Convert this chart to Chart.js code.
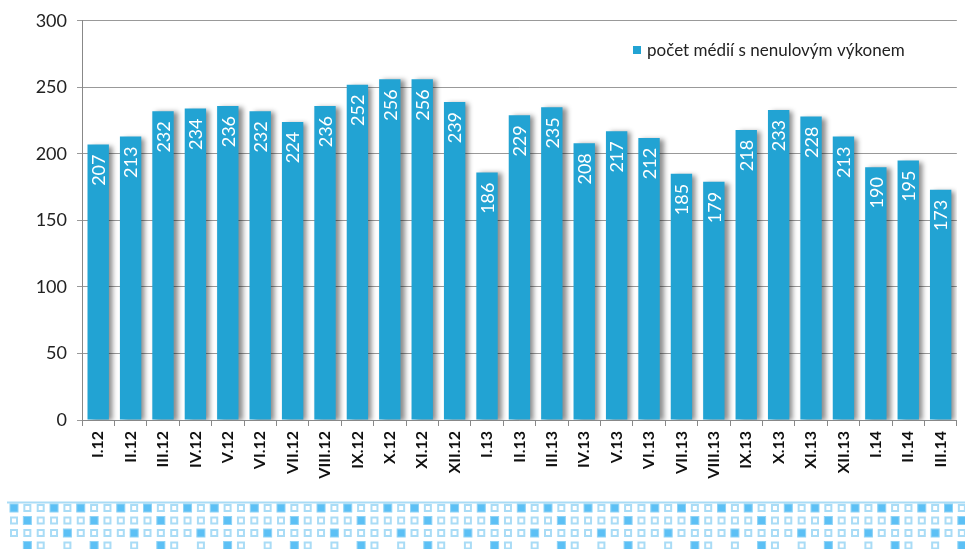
<!DOCTYPE html>
<html>
<head>
<meta charset="utf-8">
<script src="https://cdn.jsdelivr.net/npm/chart.js@4.4.0/dist/chart.umd.min.js"></script>
<style>
  body { margin: 0; background: #fff; }
  #wrap { position: relative; width: 965px; height: 500px; }
  #deco { display: block; }
</style>
</head>
<body>
<div id="wrap"><canvas id="chart"></canvas></div>
<canvas id="deco" width="965" height="49"></canvas>
<script>
// data
const categories = ['I.12', 'II.12', 'III.12', 'IV.12', 'V.12', 'VI.12', 'VII.12', 'VIII.12', 'IX.12', 'X.12', 'XI.12', 'XII.12',
    'I.13', 'II.13', 'III.13', 'IV.13', 'V.13', 'VI.13', 'VII.13', 'VIII.13', 'IX.13', 'X.13', 'XI.13', 'XII.13',
    'I.14', 'II.14', 'III.14'];
const mediaCount = [207, 213, 232, 234, 236, 232, 224, 236, 252, 256, 256, 239,
    186, 229, 235, 208, 217, 212, 185, 179, 218, 233, 228, 213,
    190, 195, 173];
const seriesName = 'počet médií s nenulovým výkonem';
const yTicks = [0, 50, 100, 150, 200, 250, 300];

const barColor = '#22a3d3';
const fontFamily = 'Lato, "Noto Sans", sans-serif';

// shadow behind bars, value labels inside bars, legend in the top right corner
const barExtras = {
    id: 'barExtras',
    beforeDatasetsDraw(chart) {
        const ctx = chart.ctx;
        ctx.save();
        ctx.shadowColor = 'rgba(0,0,0,0.45)';
        ctx.shadowOffsetX = 4;
        ctx.shadowOffsetY = 1;
        ctx.shadowBlur = 5;
    },
    afterDatasetsDraw(chart) {
        const ctx = chart.ctx;
        ctx.restore();
        const meta = chart.getDatasetMeta(0);
        ctx.save();
        ctx.fillStyle = '#ffffff';
        ctx.font = '18px ' + fontFamily;
        ctx.textAlign = 'right';
        ctx.textBaseline = 'middle';
        meta.data.forEach((bar, i) => {
            ctx.save();
            ctx.translate(bar.x, bar.y + 10);
            ctx.rotate(-Math.PI / 2);
            ctx.fillText(String(mediaCount[i]), 0, 1);
            ctx.restore();
        });
        ctx.restore();

        // legend
        const ds = chart.data.datasets[0];
        ctx.save();
        ctx.fillStyle = ds.backgroundColor;
        ctx.fillRect(633, 46, 8, 8);
        ctx.fillStyle = '#222';
        ctx.font = '17px ' + fontFamily;
        ctx.textAlign = 'left';
        ctx.textBaseline = 'middle';
        ctx.fillText(ds.label, 647, 51);
        ctx.restore();
    }
};

new Chart(document.getElementById('chart'), {
    type: 'bar',
    data: {
        labels: categories,
        datasets: [{
            label: seriesName,
            data: mediaCount,
            backgroundColor: barColor,
            borderWidth: 0,
            categoryPercentage: 1,
            barPercentage: 0.66
        }]
    },
    options: {
        responsive: true,
        maintainAspectRatio: false,
        animation: false,
        layout: { padding: { top: 6, right: 8, left: 0, bottom: 0 } },
        plugins: {
            tooltip: { enabled: false },
            legend: { display: false }
        },
        scales: {
            x: {
                grid: { display: true, drawOnChartArea: false, drawTicks: true, tickLength: 6, color: '#888' },
                border: { color: '#888' },
                ticks: {
                    minRotation: 90,
                    maxRotation: 90,
                    autoSkip: false,
                    color: '#111',
                    padding: 5,
                    font: { family: fontFamily, size: 16, weight: 'bold' }
                },
                afterFit(scale) { scale.height = 80; }
            },
            y: {
                min: 0,
                max: 300,
                afterBuildTicks(scale) { scale.ticks = yTicks.map(v => ({ value: v })); },
                grid: { color: '#999', tickLength: 5 },
                border: { color: '#888' },
                ticks: {
                    color: '#222',
                    padding: 10,
                    font: { family: fontFamily, size: 18 }
                },
                afterFit(scale) { scale.width = 82; }
            }
        }
    },
    plugins: [barExtras]
});

// decorative square pattern at the bottom
(function drawDeco() {
    const c = document.getElementById('deco');
    const g = c.getContext('2d');
    g.strokeStyle = '#a9dcf6';
    g.lineWidth = 2;
    g.beginPath();
    g.moveTo(7, 2.5);
    g.lineTo(965, 2.5);
    g.stroke();
    const rows = [
        { y: 8, filled: [0, 3], empty: [1, 2, 4] },
        { y: 20.5, filled: [1], empty: [0, 2, 3, 4] },
        { y: 33, filled: [4], empty: [0, 1, 2, 3] },
        { y: 45.5, filled: [1], empty: [2, 4] }
    ];
    const step = 13.35, x0 = 14, s = 8;
    rows.forEach(r => {
        for (let i = 0; x0 + i * step < 970; i++) {
            const cx = x0 + i * step;
            const k = i % 5;
            if (r.filled.includes(k)) {
                g.fillStyle = '#5cc0f5';
                g.fillRect(cx - s / 2, r.y - s / 2, s, s);
                g.strokeStyle = '#8fd3f6';
                g.lineWidth = 1;
                g.strokeRect(cx - s / 2, r.y - s / 2, s, s);
            } else if (r.empty.includes(k)) {
                g.strokeStyle = '#a9dcf6';
                g.lineWidth = 2;
                g.strokeRect(cx - s / 2 + 1, r.y - s / 2 + 1, s - 2, s - 2);
            }
        }
    });
})();
</script>
</body>
</html>
